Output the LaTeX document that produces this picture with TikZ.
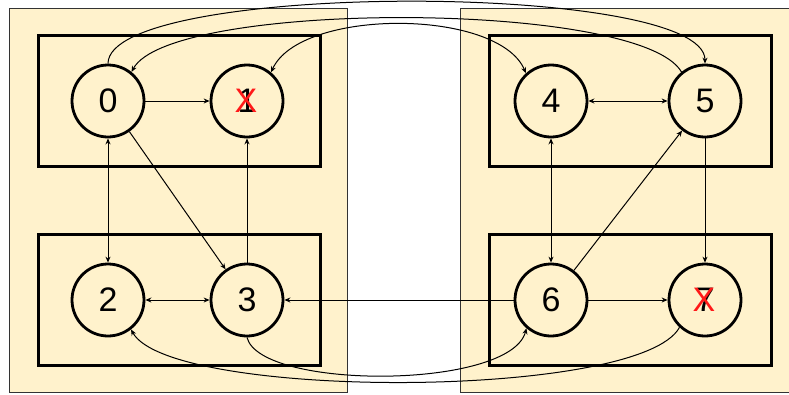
\documentclass[tikz,border=0pt]{standalone}
\usepackage{fontspec}
\setmainfont{Liberation Sans}
\usetikzlibrary{arrows.meta}
\definecolor{panel}{HTML}{FFF2CC}
\begin{document}
\begin{tikzpicture}[x=1pt,y=-1pt,
  panelbox/.style={draw=black!80, line width=1pt, fill=panel},
  groupbox/.style={draw=black, line width=3pt},
  state/.style={circle, draw=black, line width=2.8pt, fill=panel, minimum size=72pt, inner sep=0pt, font=\fontsize{34}{34}\selectfont},
  cross/.style={text=red!90!white, font=\fontsize{34}{34}\selectfont, inner sep=0pt},
  link/.style={line width=1pt, -{Stealth[length=6pt,width=5pt]}},
  both/.style={line width=1pt, {Stealth[length=6pt,width=5pt]}-{Stealth[length=6pt,width=5pt]}}]
\useasboundingbox (0,0) rectangle (789,394);
\fill[white] (0,0) rectangle (789,394);
% panels
\draw[panelbox] (9.5,8.5) rectangle (347.5,392.5);
\draw[panelbox] (460.5,8.5) rectangle (790,392.5);
% group boxes
\draw[groupbox] (38,35) rectangle (320,166);
\draw[groupbox] (38,234) rectangle (320,365);
\draw[groupbox] (489,35) rectangle (771,166);
\draw[groupbox] (489,234) rectangle (771,365);
% states
\node[state] (n0) at (108,101) {0};
\node[state] (n1) at (247,101) {1};
\node[state] (n2) at (108,300) {2};
\node[state] (n3) at (247,300) {3};
\node[state] (n4) at (551,101) {4};
\node[state] (n5) at (705,101) {5};
\node[state] (n6) at (551,300) {6};
\node[state] (n7) at (705,300) {7};
\node[cross] (x1) at ([xshift=-1pt]n1) {X};
\node[cross] (x7) at ([xshift=-1pt]n7) {X};
% straight connectors
\draw[link] (n0) -- (n1);
\draw[both] (n0) -- (n2);
\draw[link] (n0) -- (n3);
\draw[link] (n3) -- (n1);
\draw[both] (n2) -- (n3);
\draw[link] (n6) -- (n3);
\draw[both] (n4) -- (n5);
\draw[both] (n4) -- (n6);
\draw[link] (n6) -- (n5);
\draw[link] (n5) -- (n7);
\draw[link] (n6) -- (n7);
% curved connectors
\draw[link] (n0.north) .. controls (108,-19) and (705,-19) .. (n5.north);
\draw[link] (n5.129) .. controls (640,0) and (170,0) .. (n0.51);
\draw[both] (n1.50) .. controls (300,8) and (498,8) .. (n4.132);
\draw[link] (n3.south) .. controls (260,390) and (510,390) .. (n6.-131);
\draw[link] (n7.-133) .. controls (640,400) and (170,400) .. (n2.-52);
\end{tikzpicture}
\end{document}
